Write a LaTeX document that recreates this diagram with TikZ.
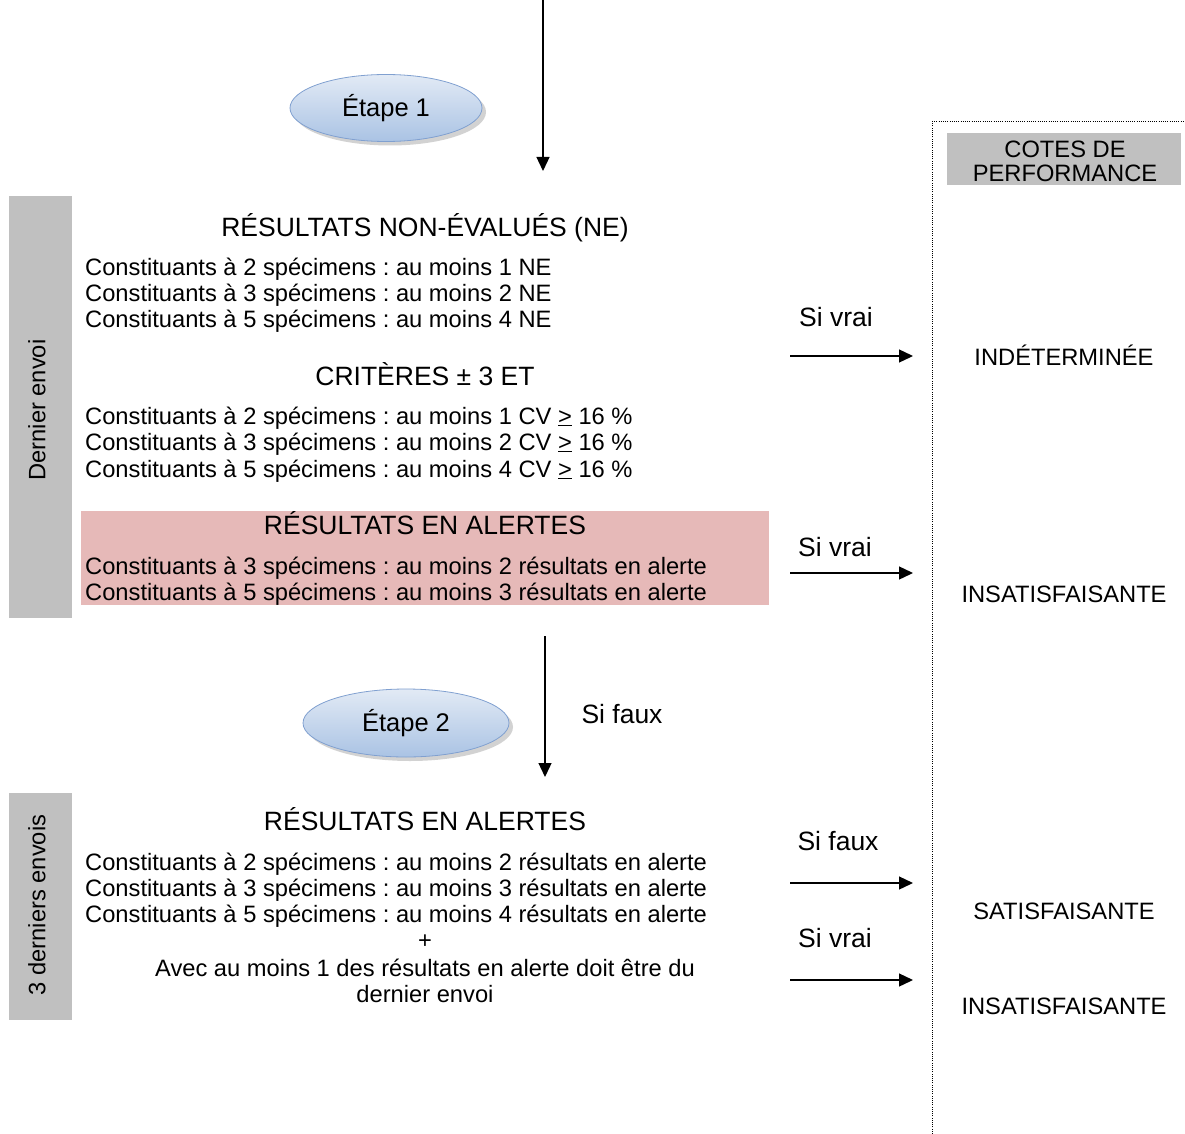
\documentclass[tikz,border=0pt]{standalone}
\usepackage{fontspec}
\setmainfont{Liberation Sans}
\usetikzlibrary{shapes.geometric,shadows,arrows.meta}
\definecolor{bargray}{RGB}{192,192,192}
\definecolor{pinkbox}{RGB}{230,185,184}
\definecolor{elltop}{RGB}{226,234,245}
\definecolor{ellbot}{RGB}{170,195,228}
\definecolor{elldraw}{RGB}{128,160,208}
\tikzset{
  txt/.style={font=\fontsize{23.7}{26}\selectfont\frenchspacing, inner sep=0pt},
  big/.style={font=\fontsize{26.5}{29}\selectfont\frenchspacing, inner sep=0pt, anchor=base},
  lft/.style={txt, anchor=base west},
  ctr/.style={txt, anchor=base},
  arr/.style={line width=1.3pt, -{Triangle[length=14pt,width=13pt]}},
  stepell/.style={ellipse, draw=elldraw, line width=0.8pt, top color=elltop, bottom color=ellbot,
     minimum width=192pt, minimum height=67pt, inner sep=0pt,
     font=\fontsize{25.5}{28}\selectfont,
     drop shadow={shadow xshift=4pt, shadow yshift=-4pt, fill=black!35, opacity=0.5}},
  bar/.style={fill=bargray, draw=none},
}
\begin{document}
\begin{tikzpicture}[x=1pt,y=-1pt]
\useasboundingbox (0,0) rectangle (1185,1134);

% dotted frame
\coordinate (fbot) at (932,1134);
\coordinate (ftl) at (932,122);
\coordinate (ftr) at (1185,122);
\draw[line width=1pt, dash pattern=on 1pt off 1.2pt] (fbot) -- (ftl) -- (ftr);
\node[bar, minimum width=234pt, minimum height=52pt, inner sep=0pt] (cotesbox) at (1064,159) {};
\node[ctr] (cotes1) at (1065,158) {COTES DE};
\node[ctr] (cotes2) at (1065,182) {PERFORMANCE};

% left bars
\node[bar, minimum width=63pt, minimum height=422pt, inner sep=0pt] (bar1) at (40.5,407) {};
\node[txt, rotate=90] (bar1t) at (37,410) {Dernier envoi};
\node[bar, minimum width=63pt, minimum height=227pt, inner sep=0pt] (bar2) at (40.5,906.5) {};
\node[txt, rotate=90] (bar2t) at (37,905) {3 derniers envois};

% top arrow and step 1
\coordinate (top0) at (543,0);
\coordinate (top1) at (543,171);
\draw[arr] (top0) -- (top1);
\node[stepell] (etape1) at (386,108) {Étape 1};

% block 1
\node[big] (ne) at (425,236) {RÉSULTATS NON-ÉVALUÉS (NE)};
\node[lft] (ne1) at (85,275) {Constituants à 2 spécimens : au moins 1 NE};
\node[lft] (ne2) at (85,301) {Constituants à 3 spécimens : au moins 2 NE};
\node[lft] (ne3) at (85,327) {Constituants à 5 spécimens : au moins 4 NE};
\node[big] (crit) at (425,385) {CRITÈRES ± 3 ET};
\node[lft] (cv1) at (85,424) {Constituants à 2 spécimens : au moins 1 CV \underline{>} 16 \%};
\node[lft] (cv2) at (85,450) {Constituants à 3 spécimens : au moins 2 CV \underline{>} 16 \%};
\node[lft] (cv3) at (85,477) {Constituants à 5 spécimens : au moins 4 CV \underline{>} 16 \%};

\node[fill=pinkbox, minimum width=688pt, minimum height=94pt, inner sep=0pt] (pink) at (425,558) {};
\node[big] (al) at (425,534) {RÉSULTATS EN ALERTES};
\node[lft] (al1) at (85,574) {Constituants à 3 spécimens : au moins 2 résultats en alerte};
\node[lft] (al2) at (85,600) {Constituants à 5 spécimens : au moins 3 résultats en alerte};

% right arrows block 1
\node[big] (sv1) at (836,326) {Si vrai};
\coordinate (a1s) at (790,356);
\coordinate (a1e) at (913,356);
\draw[arr] (a1s) -- (a1e);
\node[ctr] (indet) at (1064,365) {INDÉTERMINÉE};

\node[big] (sv2) at (835,556) {Si vrai};
\coordinate (a2s) at (790,573);
\coordinate (a2e) at (913,573);
\draw[arr] (a2s) -- (a2e);
\node[ctr] (insat1) at (1064,602) {INSATISFAISANTE};

% middle arrow and step 2
\coordinate (m0) at (545,636);
\coordinate (m1) at (545,777);
\draw[arr] (m0) -- (m1);
\node[big] (sf0) at (622,723) {Si faux};
\node[stepell, minimum width=206pt, minimum height=68pt] (etape2) at (406,723) {Étape 2};

% block 2
\node[big] (al3) at (425,830) {RÉSULTATS EN ALERTES};
\node[lft] (b1) at (85,870) {Constituants à 2 spécimens : au moins 2 résultats en alerte};
\node[lft] (b2) at (85,896) {Constituants à 3 spécimens : au moins 3 résultats en alerte};
\node[lft] (b3) at (85,922) {Constituants à 5 spécimens : au moins 4 résultats en alerte};
\node[ctr] (plus) at (425,948) {+};
\node[ctr] (avec1) at (425,976) {Avec au moins 1 des résultats en alerte doit être du};
\node[ctr] (avec2) at (425,1002) {dernier envoi};

\node[big] (sf1) at (838,850) {Si faux};
\coordinate (a3s) at (790,883);
\coordinate (a3e) at (913,883);
\draw[arr] (a3s) -- (a3e);
\node[ctr] (sat) at (1064,919) {SATISFAISANTE};

\node[big] (sv3) at (835,947) {Si vrai};
\coordinate (a4s) at (790,980);
\coordinate (a4e) at (913,980);
\draw[arr] (a4s) -- (a4e);
\node[ctr] (insat2) at (1064,1014) {INSATISFAISANTE};
\end{tikzpicture}
\end{document}
